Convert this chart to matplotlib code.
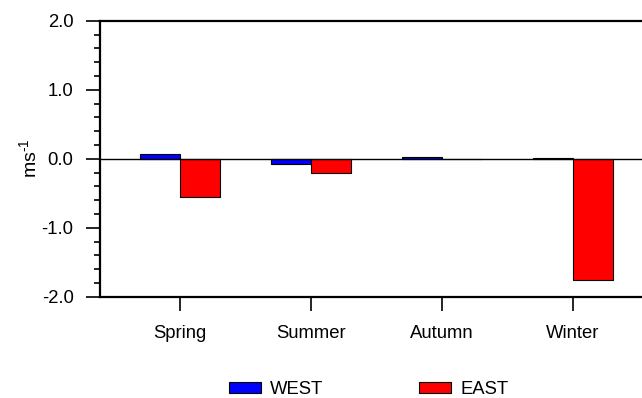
import matplotlib
matplotlib.use("Agg")
import matplotlib.pyplot as plt
import numpy as np
from matplotlib.ticker import MultipleLocator

plt.rcParams['font.family'] = ['Liberation Sans', 'DejaVu Sans']
plt.rcParams['mathtext.fontset'] = 'custom'
plt.rcParams['mathtext.rm'] = 'Liberation Sans'
plt.rcParams['mathtext.it'] = 'Liberation Sans'

seasons = ["Spring", "Summer", "Autumn", "Winter"]
west = [0.07, -0.08, 0.02, 0.01]
east = [-0.55, -0.20, -0.01, -1.76]
series_names = ["WEST", "EAST"]
series_colors = ["#0000ff", "#ff0000"]

W, H = 642, 398
fig = plt.figure(figsize=(W / 100, H / 100), dpi=100)

# plot frame in pixel units; the right part runs past the canvas edge
left_px, right_px, top_px, bottom_px = 100, 653, 20.7, 296.7
ax = fig.add_axes([left_px / W, 1 - bottom_px / H,
                   (right_px - left_px) / W, (bottom_px - top_px) / H])

x = np.arange(len(seasons))
bw = 0.305
b1 = ax.bar(x - bw / 2, west, bw, color=series_colors[0], edgecolor="black",
            linewidth=0.8, label=series_names[0], zorder=3)
b2 = ax.bar(x + bw / 2, east, bw, color=series_colors[1], edgecolor="black",
            linewidth=0.8, label=series_names[1], zorder=3)

ax.axhline(0, color="black", linewidth=1.0, zorder=4)

ax.set_xlim(-80 / 131, (right_px - 180) / 131)
ax.set_ylim(-2.0, 2.0)
ax.set_xticks(x)
ax.set_xticklabels(seasons, fontsize=13.3)
ax.set_yticks([-2.0, -1.0, 0.0, 1.0, 2.0])
ax.set_yticklabels(["-2.0", "-1.0", "0.0", "1.0", "2.0"], fontsize=13.3)
ax.yaxis.set_minor_locator(MultipleLocator(0.2))

ax.tick_params(axis="y", which="major", direction="out", length=10, width=1.2, pad=9)
ax.tick_params(axis="y", which="minor", direction="out", length=4.5, width=1.2)
ax.tick_params(axis="x", which="major", direction="out", length=10, width=1.2, pad=10.5)
ax.tick_params(axis="x", which="minor", bottom=False)

for s in ["left", "bottom", "top"]:
    ax.spines[s].set_linewidth(1.6)
ax.spines["right"].set_visible(False)

ax.set_ylabel(r"ms$^{\text{-}1}$", fontsize=14, labelpad=1)

fig.legend(handles=[b1, b2], loc="center left",
           bbox_to_anchor=(229 / W, 1 - 389.5 / H), ncol=2, frameon=False,
           fontsize=13.3, handlelength=1.72, handleheight=0.55,
           handletextpad=0.5, columnspacing=5.2, borderaxespad=0, borderpad=0)

fig.savefig("out.png", dpi=100)
